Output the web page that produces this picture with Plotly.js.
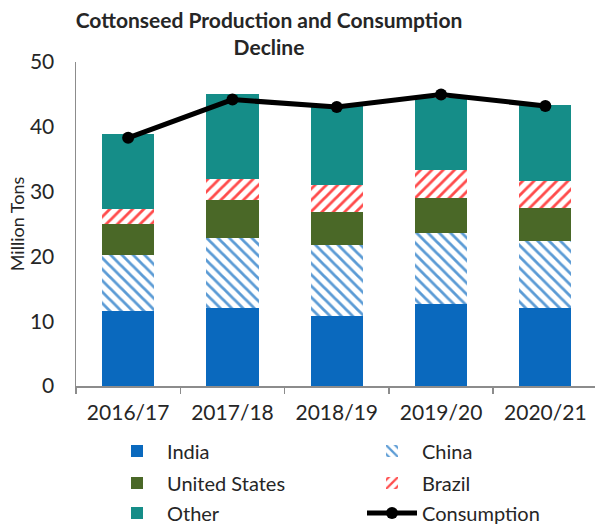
<!DOCTYPE html>
<html>
<head>
<meta charset="utf-8">
<script src="https://cdn.plot.ly/plotly-3.0.1.min.js"></script>
<style>html,body{margin:0;padding:0;background:#fff;}#chart{width:595px;height:531px;}</style>
</head>
<body>
<div id="chart"></div>
<script>
const categories = ['2016/17', '2017/18', '2018/19', '2019/20', '2020/21'];
const india = [11.6, 12.0, 10.8, 12.7, 12.0];
const china = [8.6, 10.9, 10.9, 10.85, 10.4];
const unitedStates = [4.75, 5.75, 5.15, 5.5, 5.0];
const brazil = [2.3, 3.25, 4.1, 4.35, 4.2];
const other = [11.6, 13.2, 12.2, 11.1, 11.7];
const consumption = [38.3, 44.2, 43.05, 45.0, 43.2];
const yTicks = [0, 10, 20, 30, 40, 50];

const FONT = 'Lato, "Open Sans", sans-serif';
const TXT = '#262626';

const traces = [
  {type:'bar', name:'India', x:categories, y:india, legend:'legend', showlegend:true,
   marker:{color:'#0A69BE', line:{width:0}}},
  {type:'bar', name:'China', x:categories, y:china, legend:'legend2', showlegend:true,
   marker:{color:'#ffffff', line:{width:0},
     pattern:{shape:'\\', fgcolor:'#5B9BD5', bgcolor:'#ffffff', size:8, solidity:0.35, fillmode:'replace'}}},
  {type:'bar', name:'United States', x:categories, y:unitedStates, legend:'legend3', showlegend:true,
   marker:{color:'#4A6827', line:{width:0}}},
  {type:'bar', name:'Brazil', x:categories, y:brazil, legend:'legend4', showlegend:true,
   marker:{color:'#ffffff', line:{width:0},
     pattern:{shape:'/', fgcolor:'#FF4B4B', bgcolor:'#ffffff', size:8, solidity:0.35, fillmode:'replace'}}},
  {type:'bar', name:'Other', x:categories, y:other, legend:'legend5', showlegend:true,
   marker:{color:'#158D88', line:{width:0}}},
  {type:'scatter', mode:'lines+markers', name:'Consumption', x:categories, y:consumption, legend:'legend6', showlegend:true,
   line:{color:'#000000', width:5}, marker:{color:'#000000', size:12}}
];

function leg(xPix, yPix){
  return {orientation:'h', xref:'container', yref:'container', x:xPix/595, xanchor:'left',
    y:1 - yPix/531, yanchor:'middle', itemwidth:50, visible:true,
    font:{family:FONT, size:20, color:TXT}, bgcolor:'rgba(0,0,0,0)'};
}

const layout = {
  width:595, height:531,
  showlegend:true,
  margin:{l:76, r:0, t:62, b:145},
  paper_bgcolor:'#ffffff', plot_bgcolor:'#ffffff',
  barmode:'stack', bargap:0.5,
  font:{family:FONT, color:TXT},
  title:{text:'Cottonseed Production and Consumption<br>Decline', x:269/595, xanchor:'center',
    y:1 - 28/531, yanchor:'top', yref:'container',
    font:{family:FONT, size:21, weight:700, color:TXT}},
  xaxis:{type:'category', range:[-0.5, 4.476], showline:true, linecolor:'#8c8c8c', linewidth:1.5,
    ticks:'outside', tickson:'boundaries', ticklen:6, tickcolor:'#8c8c8c', tickwidth:1.5,
    ticklabelstandoff:7,
    tickfont:{family:FONT, size:21, color:TXT}, showgrid:false, zeroline:false, fixedrange:true},
  yaxis:{range:[0, 50], tickvals:yTicks, showline:true, linecolor:'#8c8c8c', linewidth:1.5,
    ticks:'', showgrid:false, zeroline:false, tickfont:{family:FONT, size:21, color:TXT},
    ticklabelstandoff:16,
    title:{text:'Million Tons', font:{family:FONT, size:18, color:TXT}, standoff:0}},
  legend:leg(107, 451),
  legend2:leg(362, 451),
  legend3:leg(107, 483),
  legend4:leg(362, 483),
  legend5:leg(107, 513),
  legend6:leg(362, 513)
};

Plotly.newPlot('chart', traces, layout, {displayModeBar:false, staticPlot:true});
</script>
</body>
</html>
